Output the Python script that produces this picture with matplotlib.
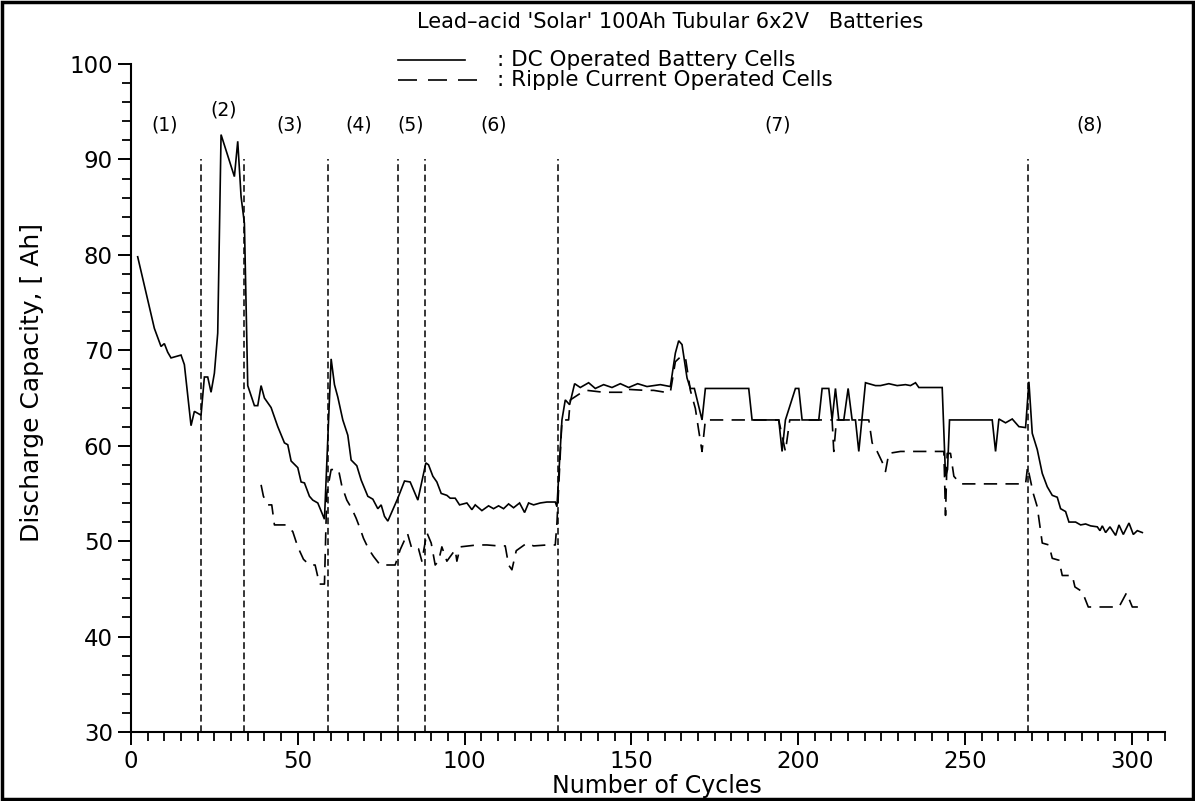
import matplotlib
matplotlib.use("Agg")
import matplotlib.pyplot as plt
from matplotlib.ticker import MultipleLocator
from matplotlib.patches import Rectangle

# ---- data ----
dc_x = [2, 7, 9, 10, 11, 12, 15, 16, 18, 19, 21, 22, 23, 24, 25, 26, 27, 31, 32, 33, 34, 35,
        37, 38, 39, 40, 42, 44, 46, 47, 48, 50, 51, 52, 53.5, 54.5, 56, 58, 60, 61, 62, 63.5,
        65, 66, 67.7, 69, 71, 72.5, 74, 75, 76, 77, 80, 82, 83.7, 86, 88.4, 89.2, 90.5, 91.7,
        93, 94.7, 95.7, 97.2, 98.5, 100.7, 102.2, 103.2, 105.2, 107.2, 108.7, 110.2, 111.7,
        113.2, 114.7, 116.5, 118, 119.2, 120.7, 122.7, 124.7, 127.2, 127.7, 129.2, 130.2,
        131.5, 133, 134.7, 137.2, 139.2, 141.7, 144.2, 146.7, 149.2, 151.9, 154.7, 158.7,
        161.7, 163.2, 164.2, 165.2, 166.7, 167.7, 168.9, 171.2, 172.2, 185.2, 186.2, 194.2,
        195.2, 196.2, 199.2, 200.2, 201.2, 206.2, 207.2, 209.2, 210.2, 211.2, 212.2, 213.7,
        215, 216.2, 217.2, 218.2, 220.2, 223.2, 224.7, 227.2, 229.7, 232.2, 233.7, 235.2,
        236.2, 243.2, 244.2, 244.8, 245.4, 258.2, 259.2, 260.2, 262.2, 264.2, 266.2, 268.2,
        269.2, 270.2, 271.7, 273.2, 274.7, 276.2, 277.7, 278.7, 280.2, 281.2, 283.2, 284.7,
        286.2, 287.7, 289.7, 290.5, 291.2, 292.2, 293.5, 295.2, 296.2, 297.5, 299.2, 300.5,
        301.7, 303.2]
dc_y = [79.8, 72.3, 70.4, 70.7, 69.8, 69.2, 69.5, 68.5, 62.1, 63.6, 63.2, 67.2, 67.2, 65.6,
        67.6, 71.8, 92.6, 88.2, 91.9, 86.1, 83.3, 66.3, 64.2, 64.2, 66.3, 65.0, 64.0, 62.0,
        60.3, 60.1, 58.4, 57.7, 56.2, 56.1, 54.7, 54.3, 54.0, 52.3, 69.1, 66.4, 65.1, 62.7,
        61.1, 58.5, 57.9, 56.4, 54.7, 54.4, 53.4, 53.8, 52.6, 52.1, 54.5, 56.3, 56.2, 54.3,
        58.2, 58.0, 56.8, 56.2, 55.0, 54.8, 54.5, 54.5, 53.8, 54.0, 53.3, 53.8, 53.2, 53.7,
        53.4, 53.7, 53.4, 53.9, 53.5, 54.0, 53.0, 54.0, 53.8, 54.0, 54.1, 54.1, 53.6, 62.7,
        64.8, 64.3, 66.5, 66.1, 66.6, 66.0, 66.4, 66.1, 66.5, 66.1, 66.5, 66.2, 66.4, 66.2,
        69.7, 71.0, 70.6, 67.1, 66.0, 66.0, 62.7, 66.0, 66.0, 62.7, 62.7, 59.4, 62.7, 66.0,
        66.0, 62.7, 62.7, 66.0, 66.0, 62.7, 66.0, 62.7, 62.7, 66.0, 62.7, 62.7, 59.4, 66.6,
        66.3, 66.3, 66.5, 66.3, 66.4, 66.3, 66.6, 66.1, 66.1, 56.8, 57.5, 62.7, 62.7, 59.4,
        62.8, 62.4, 62.8, 62.0, 61.9, 66.7, 61.3, 59.6, 57.1, 55.7, 54.8, 54.6, 53.4, 53.1,
        52.0, 52.0, 51.7, 51.8, 51.6, 51.5, 51.1, 51.6, 50.9, 51.5, 50.6, 51.7, 50.7, 51.9,
        50.7, 51.1, 50.9]

rc_x = [39, 39.7, 41, 42.2, 43, 46.4, 48.5, 50, 51.7, 53.5, 55.2, 56.5, 58, 58.7, 60, 62.2,
        63.2, 64.7, 66.2, 67.5, 68.7, 69.7, 71.2, 72.7, 74.7, 79.2, 80.7, 82.9, 84.2, 86.2,
        87.2, 88.7, 90, 91.2, 92.2, 93.2, 94.7, 97.2, 97.7, 98.7, 103.7, 106.7, 110.2, 112.2,
        113.2, 114.2, 115.5, 118.7, 120.7, 124.7, 127.2, 127.7, 129.2, 131.2, 131.7, 135.2,
        136.7, 141.7, 145.2, 148.7, 149.2, 154.2, 156.7, 160.2, 161.7, 163.2, 164.7, 166.2,
        167.7, 169.2, 170.2, 171.2, 172.2, 194.2, 196.2, 197.5, 210.2, 210.7, 211.5, 221.2,
        222.2, 223.7, 225.2, 226.2, 227.2, 230.7, 243.7, 244.2, 244.7, 245.7, 246.7, 248.7,
        268.2, 268.8, 270.5, 271.7, 273.2, 275.2, 276.2, 278.2, 279.2, 282.2, 283, 285.2, 287,
        296.2, 298.5, 299.5, 300.2, 302.2]
rc_y = [55.9, 54.7, 53.8, 53.8, 51.7, 51.7, 51.0, 49.4, 48.1, 47.5, 47.5, 45.5, 45.5, 55.0,
        57.5, 57.5, 55.8, 54.3, 53.4, 52.4, 51.3, 50.3, 49.2, 48.4, 47.5, 47.5, 49.1, 50.8,
        49.2, 49.2, 47.9, 50.9, 49.8, 47.5, 47.9, 49.4, 47.9, 49.1, 47.9, 49.4, 49.6, 49.6,
        49.5, 49.5, 47.5, 47.0, 49.0, 49.8, 49.5, 49.6, 49.6, 51.9, 62.7, 62.7, 64.8, 65.6,
        65.8, 65.6, 65.6, 65.6, 65.9, 65.8, 65.8, 65.6, 65.6, 68.8, 69.3, 69.3, 65.8, 63.9,
        61.6, 59.4, 62.7, 62.7, 59.4, 62.7, 62.7, 59.4, 62.7, 62.7, 60.3, 59.4, 58.3, 57.3,
        59.2, 59.4, 59.4, 52.7, 59.2, 59.2, 56.8, 56.0, 56.0, 57.8, 55.0, 53.6, 49.8, 49.6,
        48.2, 48.0, 46.4, 46.4, 45.2, 44.7, 43.1, 43.1, 44.6, 43.7, 43.1, 43.1]

phase_bounds = [21, 34, 59, 80, 88, 128, 269]
phase_labels = ["(1)", "(2)", "(3)", "(4)", "(5)", "(6)", "(7)", "(8)"]
phase_label_x = [10.2, 27.9, 47.7, 68.4, 83.7, 108.6, 194, 287.4]
phase_label_y = [93.6, 95.2, 93.6, 93.6, 93.6, 93.6, 93.6, 93.6]

title = "Lead\u2013acid 'Solar' 100Ah Tubular 6x2V   Batteries"
legend_dc = ": DC Operated Battery Cells"
legend_rc = ": Ripple Current Operated Cells"

plt.rcParams['font.family'] = ['DejaVu Sans']

W, H = 1195, 801
fig = plt.figure(figsize=(W / 100, H / 100), dpi=100)
ax = fig.add_axes([131 / W, 1 - 732 / H, (1165 - 131) / W, (732 - 64) / H])

ax.plot(dc_x, dc_y, color='black', lw=1.2, solid_joinstyle='miter')
ax.plot(rc_x, rc_y, color='black', lw=1.2, linestyle=(0, (8, 5)))
for xb in phase_bounds:
    ax.plot([xb, xb], [30, 90], color='black', lw=1.1, linestyle=(0, (4.4, 2.4)))
for lab, lx, ly in zip(phase_labels, phase_label_x, phase_label_y):
    ax.text(lx, ly, lab, ha='center', va='center', fontsize=13.5)

ax.set_xlim(0, 310)
ax.set_ylim(30, 100)
ax.spines['top'].set_visible(False)
ax.spines['right'].set_visible(False)
ax.spines['left'].set_linewidth(1.5)
ax.spines['bottom'].set_linewidth(1.5)
ax.xaxis.set_major_locator(MultipleLocator(50))
ax.xaxis.set_minor_locator(MultipleLocator(5))
ax.yaxis.set_major_locator(MultipleLocator(10))
ax.yaxis.set_minor_locator(MultipleLocator(2))
ax.tick_params(which='major', direction='out', length=9.5, width=1.4, labelsize=16.5, pad=3.5)
ax.tick_params(which='minor', direction='out', length=6.3, width=1.3)
ax.set_xticks([0, 50, 100, 150, 200, 250, 300])

fig.text(32 / W, 1 - 383 / H, "Discharge Capacity, [ Ah]", rotation=90,
         ha='center', va='center', fontsize=18)
fig.text(657 / W, 1 - 793 / H, "Number of Cycles", ha='center', va='baseline', fontsize=17)

fig.text(670 / W, 1 - 22 / H, title, ha='center', va='center', fontsize=15)
fig.lines.append(plt.Line2D([398 / W, 465 / W], [1 - 60 / H, 1 - 60 / H],
                            transform=fig.transFigure, color='black', lw=1.2))
fig.lines.append(plt.Line2D([398 / W, 477 / W], [1 - 80 / H, 1 - 80 / H],
                            transform=fig.transFigure, color='black', lw=1.2,
                            linestyle=(0, (11.4, 6.6))))
fig.text(497 / W, 1 - 60 / H, legend_dc, ha='left', va='center', fontsize=15.5)
fig.text(497 / W, 1 - 80 / H, legend_rc, ha='left', va='center', fontsize=15.5)

fig.patches.append(Rectangle((0.002, 0.003), 0.996, 0.994, transform=fig.transFigure,
                             fill=False, lw=2.5, ec='black'))

fig.savefig("out.png", dpi=100)
